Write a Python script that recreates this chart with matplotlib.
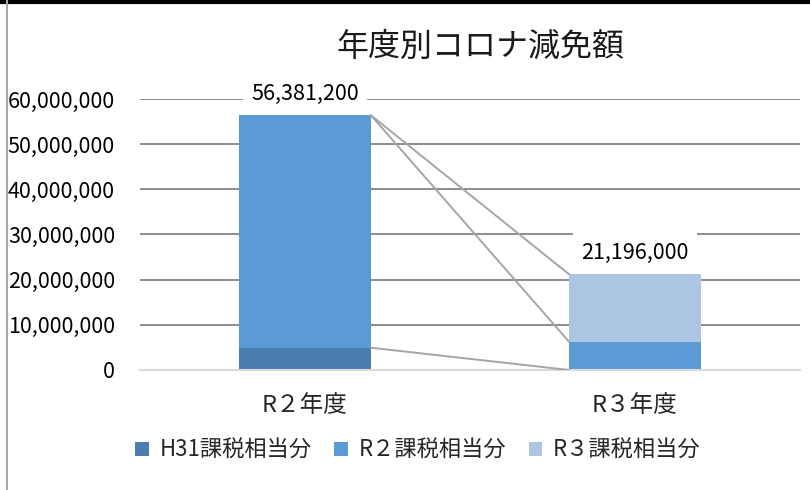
import matplotlib.pyplot as plt
from matplotlib.lines import Line2D
import numpy as np

plt.rcParams['font.family'] = ['Noto Sans CJK JP', 'DejaVu Sans']

categories = ['R２年度', 'R３年度']
series_names = ['H31課税相当分', 'R２課税相当分', 'R３課税相当分']
h31 = [4930000, 0]
r2 = [51451200, 6260000]
r3 = [0, 14936000]
totals = [56381200, 21196000]
colors = ['#4A7EB0', '#5B9BD5', '#ABC5E3']
yticks = [0, 10000000, 20000000, 30000000, 40000000, 50000000, 60000000]


def main():
    fig = plt.figure(figsize=(8.1, 4.9), dpi=100)
    ax = fig.add_axes([140 / 810, 1 - 370 / 490, 660 / 810, 271 / 490])

    x = np.arange(len(categories))
    width = 0.4
    bottom = np.zeros(len(categories))
    bars = []
    tops = []
    for name, vals, col in zip(series_names, [h31, r2, r3], colors):
        vals = np.array(vals, dtype=float)
        b = ax.bar(x, vals, width, bottom=bottom, color=col, label=name, zorder=2)
        bars.append(b)
        bottom = bottom + vals
        tops.append(bottom.copy())

    # series lines between the stacks
    for top in tops:
        ax.plot([x[0] + width / 2, x[1] - width / 2], [top[0], top[1]],
                color='#A5A5A5', lw=1.4, zorder=3)

    for xi, total in zip(x, totals):
        ax.text(xi, total + 2300000, f'{total:,}', ha='center', va='bottom',
                fontsize=15.5, zorder=4,
                bbox=dict(facecolor='white', edgecolor='none', pad=6))

    ax.set_xlim(-0.5, 1.5)
    ax.set_ylim(0, 60000000)
    ax.set_yticks(yticks)
    ax.set_yticklabels([f'{v:,}' for v in yticks])
    ax.set_xticks(x)
    ax.set_xticklabels(categories)
    ax.tick_params(axis='y', length=0, pad=18, labelsize=15.5, colors='black')
    ax.tick_params(axis='x', length=0, pad=17, labelsize=17, colors='#262626')
    ax.yaxis.grid(True, color='#8C8C8C', lw=1.4, zorder=0)
    ax.set_axisbelow(True)
    for s in ['top', 'right', 'left']:
        ax.spines[s].set_visible(False)
    ax.spines['bottom'].set_color('#D9D9D9')
    ax.spines['bottom'].set_linewidth(1.5)

    fig.text(480 / 810, 1 - 47 / 490, '年度別コロナ減免額', ha='center', va='center',
             fontsize=23, color='#1a1a1a')

    ax.legend(handles=bars, labels=series_names, loc='center', ncol=3,
              bbox_to_anchor=(418 / 810, 1 - 450 / 490), bbox_transform=fig.transFigure,
              frameon=False, fontsize=16, handlelength=0.6, handleheight=0.6,
              handletextpad=0.5, columnspacing=1.0, labelcolor='#262626')

    # chart frame edges
    fig.add_artist(Line2D([0, 1], [1 - 2 / 490, 1 - 2 / 490], color='black', lw=3,
                          transform=fig.transFigure))
    fig.add_artist(Line2D([7 / 810, 7 / 810], [0, 1], color='#A6A6A6', lw=1.5,
                          transform=fig.transFigure))

    fig.savefig('out.png', dpi=100)


if __name__ == '__main__':
    main()
